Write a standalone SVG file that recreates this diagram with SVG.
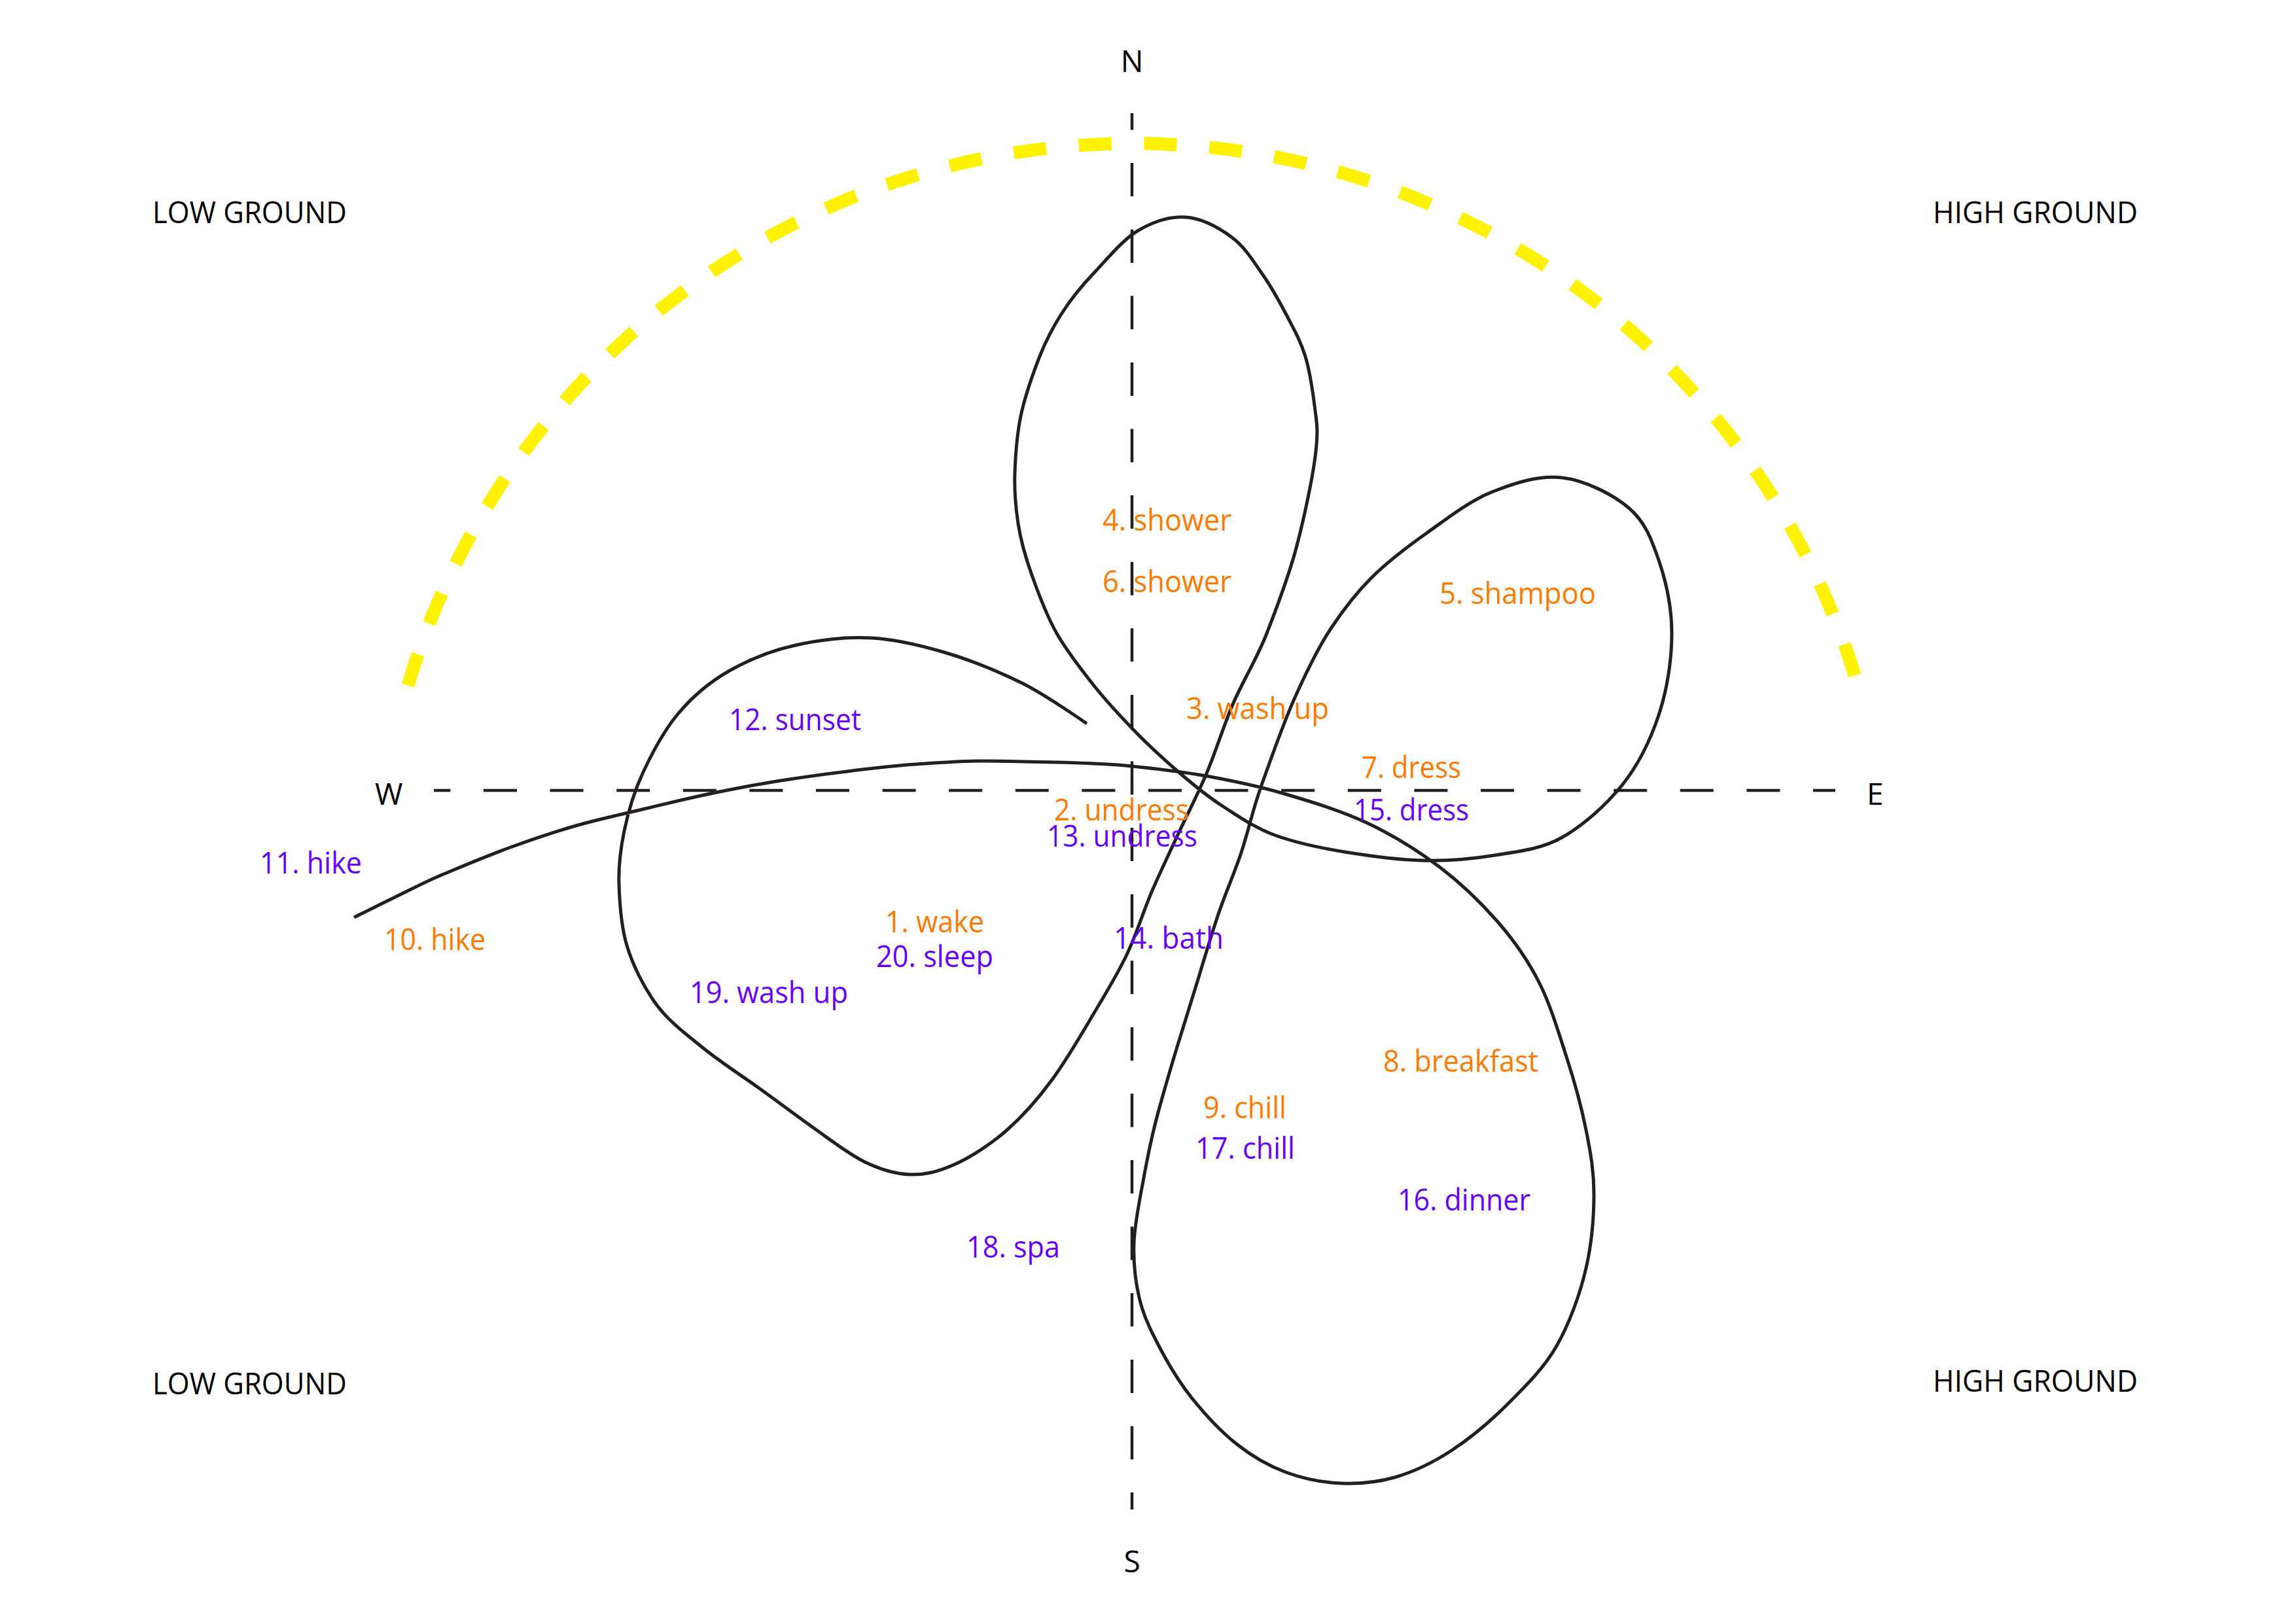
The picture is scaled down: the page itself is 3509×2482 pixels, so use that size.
<svg xmlns="http://www.w3.org/2000/svg" width="3509" height="2482" viewBox="0 0 3509 2482">
<style>
text{font-family:"Open Sans","Noto Sans","Liberation Sans",sans-serif;font-size:46px;}
.k{fill:#000;}
.o{fill:#FF7A00;}
.p{fill:#6600FF;}
.axis{fill:none;stroke:#231F20;stroke-width:4.5;stroke-dasharray:51 50.6;}
.sun{fill:none;stroke:#FFF200;stroke-width:20;stroke-dasharray:50 50;}
.path{fill:none;stroke:#231F20;stroke-width:5;stroke-linejoin:round;stroke-linecap:butt;}
</style>
<rect width="3509" height="2482" fill="#fff"/>
<g id="axes">
<path class="axis" d="M1730,173 V2307" stroke-dashoffset="25.5"/>
<path class="axis" d="M663,1208 H2805" stroke-dashoffset="25.6"/>
<text class="k" x="1730" y="110" text-anchor="middle">N</text>
<text class="k" x="1730" y="2403" text-anchor="middle">S</text>
<text class="k" x="573" y="1230">W</text>
<text class="k" x="2853" y="1230">E</text>
</g>
<g id="sun-arc">
<path class="sun" d="M620,1060 A1155,1155 0 0 1 2840,1050" stroke-dashoffset="-13"/>
</g>
<g id="ground-labels">
<text class="k" x="233" y="341" textLength="297" lengthAdjust="spacingAndGlyphs">LOW GROUND</text>
<text class="k" x="2954" y="341" textLength="313" lengthAdjust="spacingAndGlyphs">HIGH GROUND</text>
<text class="k" x="233" y="2131" textLength="297" lengthAdjust="spacingAndGlyphs">LOW GROUND</text>
<text class="k" x="2954" y="2127" textLength="313" lengthAdjust="spacingAndGlyphs">HIGH GROUND</text>
</g>
<g id="route">
<path class="path" d="M1661,1106 S1597,1061 1560,1043 S1478,1007 1440,996 S1368,977 1331,975 S1252,978 1216,986 S1145,1008 1115,1025 S1059,1064 1037,1090 S997,1150 983,1180 S960,1241 954,1270 S945,1323 946,1352 S949,1415 958,1445 S984,1509 1003,1535 S1049,1581 1075,1602 S1132,1643 1160,1663 S1218,1706 1245,1725 S1296,1763 1320,1775 S1367,1794 1390,1795 S1433,1791 1458,1780 S1514,1749 1539,1727 S1586,1680 1608,1650 S1652,1582 1671,1550 S1708,1489 1723,1457 S1748,1391 1761,1361 S1786,1306 1800,1276 S1830,1215 1844,1182 S1868,1115 1883,1079 S1920,1009 1936,968 S1970,880 1982,834 S2007,726 2011,690 S2012,644 2009,620 S2002,568 1995,545 S1978,504 1967,483 S1944,440 1930,420 S1903,378 1883,363 S1837,334 1813,332 S1764,338 1740,352 S1692,396 1672,417 S1636,458 1622,480 S1598,521 1588,547 S1566,607 1560,636 S1552,695 1551,722 S1552,774 1556,800 S1567,851 1577,879 S1599,940 1615,968 S1653,1024 1672,1048 S1709,1091 1730,1113 S1776,1158 1799,1178 S1845,1217 1870,1233 S1919,1266 1950,1277 S2018,1296 2055,1302 S2134,1314 2172,1315 S2249,1313 2285,1307 S2355,1298 2387,1280 S2454,1231 2479,1200 S2522,1132 2535,1093 S2555,1008 2555,968 S2546,888 2535,856 S2514,797 2489,776 S2422,734 2387,730 S2315,738 2280,752 S2211,793 2180,815 S2120,859 2096,883 S2055,929 2035,959 S1997,1026 1979,1066 S1942,1161 1928,1200 S1908,1270 1897,1303 S1872,1367 1861,1400 S1840,1467 1830,1500 S1809,1567 1799,1600 S1779,1667 1770,1700 S1754,1767 1748,1800 S1734,1870 1733,1900 S1735,1957 1741,1983 S1757,2030 1770,2055 S1801,2111 1821,2136 S1866,2188 1890,2207 S1938,2240 1965,2250 S2023,2266 2051,2267 S2103,2266 2131,2258 S2189,2236 2218,2217 S2277,2173 2304,2146 S2359,2092 2379,2057 S2415,1977 2424,1938 S2436,1860 2436,1825 S2431,1762 2424,1727 S2406,1652 2394,1615 S2370,1537 2353,1503 S2316,1440 2290,1410 S2233,1350 2200,1325 S2130,1277 2090,1258 S2000,1224 1959,1212 S1882,1193 1844,1186 S1768,1175 1730,1171 S1653,1166 1615,1165 S1536,1163 1500,1163 S1433,1166 1400,1168 S1335,1174 1302,1178 S1234,1187 1200,1192 S1135,1203 1100,1210 S1027,1226 990,1235 S915,1252 880,1262 S813,1283 780,1295 S709,1323 680,1335 S629,1359 606,1370 S552,1397 541,1402"/>
</g>
<g id="step-labels">
<text id="s1" class="o" x="1353" y="1425" textLength="151" lengthAdjust="spacingAndGlyphs">1. wake</text>
<text id="s2" class="o" x="1611" y="1254" textLength="206" lengthAdjust="spacingAndGlyphs">2. undress</text>
<text id="s3" class="o" x="1813" y="1099" textLength="218" lengthAdjust="spacingAndGlyphs">3. wash up</text>
<text id="s4" class="o" x="1685" y="811" textLength="197" lengthAdjust="spacingAndGlyphs">4. shower</text>
<text id="s5" class="o" x="2200" y="923" textLength="239" lengthAdjust="spacingAndGlyphs">5. shampoo</text>
<text id="s6" class="o" x="1685" y="905" textLength="197" lengthAdjust="spacingAndGlyphs">6. shower</text>
<text id="s7" class="o" x="2081" y="1189" textLength="152" lengthAdjust="spacingAndGlyphs">7. dress</text>
<text id="s8" class="o" x="2114" y="1638" textLength="237" lengthAdjust="spacingAndGlyphs">8. breakfast</text>
<text id="s9" class="o" x="1839" y="1709" textLength="127" lengthAdjust="spacingAndGlyphs">9. chill</text>
<text id="s10" class="o" x="587" y="1452" textLength="155" lengthAdjust="spacingAndGlyphs">10. hike</text>
<text id="s11" class="p" x="397" y="1335" textLength="156" lengthAdjust="spacingAndGlyphs">11. hike</text>
<text id="s12" class="p" x="1114" y="1116" textLength="202" lengthAdjust="spacingAndGlyphs">12. sunset</text>
<text id="s13" class="p" x="1600" y="1294" textLength="230" lengthAdjust="spacingAndGlyphs">13. undress</text>
<text id="s14" class="p" x="1702" y="1450" textLength="168" lengthAdjust="spacingAndGlyphs">14. bath</text>
<text id="s15" class="p" x="2069" y="1254" textLength="176" lengthAdjust="spacingAndGlyphs">15. dress</text>
<text id="s16" class="p" x="2136" y="1850" textLength="203" lengthAdjust="spacingAndGlyphs">16. dinner</text>
<text id="s17" class="p" x="1827" y="1771" textLength="152" lengthAdjust="spacingAndGlyphs">17. chill</text>
<text id="s18" class="p" x="1477" y="1922" textLength="143" lengthAdjust="spacingAndGlyphs">18. spa</text>
<text id="s19" class="p" x="1054" y="1533" textLength="242" lengthAdjust="spacingAndGlyphs">19. wash up</text>
<text id="s20" class="p" x="1339" y="1478" textLength="179" lengthAdjust="spacingAndGlyphs">20. sleep</text>
</g>
</svg>
